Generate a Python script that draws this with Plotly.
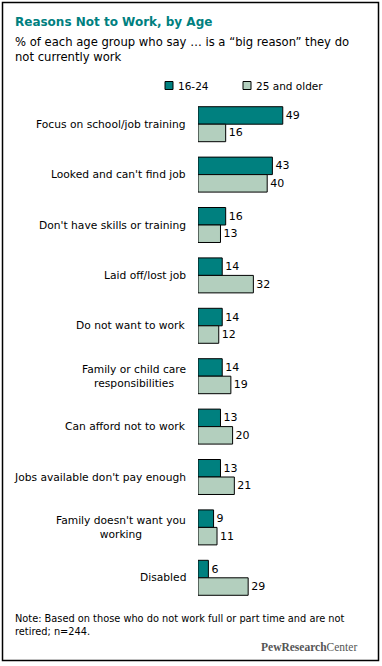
import plotly.graph_objects as go

categories = ["Focus on school/job training", "Looked and can't find job",
              "Don't have skills or training", "Laid off/lost job",
              "Do not want to work", "Family or child care<br>responsibilities",
              "Can afford not to work", "Jobs available don't pay enough",
              "Family doesn't want you<br>working", "Disabled"]
age_16_24 = [49, 43, 16, 14, 14, 14, 13, 13, 9, 6]
age_25_older = [16, 40, 13, 32, 12, 19, 20, 21, 11, 29]
series_names = ["16-24", "25 and older"]

DARK = "#00807F"
LIGHT = "#B3CFBE"
W, H = 382, 666
ML, MR, MT, MB = 198, 11, 99, 63
PW, PH = W - ML - MR, H - MT - MB
FONT = "DejaVu Sans"


def px_x(p):
    return (p - ML) / PW


def px_y(p):
    return (H - MB - p) / PH


fig = go.Figure()
for name, vals, col in [(series_names[0], age_16_24, DARK), (series_names[1], age_25_older, LIGHT)]:
    fig.add_trace(go.Bar(
        y=categories, x=vals, name=name, orientation="h",
        marker=dict(color=col, line=dict(color="black", width=1)),
        text=vals, textposition="outside", constraintext="none",
        textfont=dict(family=FONT, size=11, color="black"),
        cliponaxis=False, showlegend=False, hoverinfo="skip",
    ))

annotations = []
for c in categories:
    annotations.append(dict(xref="paper", yref="y", x=0, y=c, xshift=-10,
                            xanchor="right", yanchor="middle", align="center",
                            text=c, showarrow=False,
                            font=dict(family=FONT, size=10.7, color="black")))

annotations += [
    dict(xref="paper", yref="paper", x=px_x(13), y=px_y(21.5), xanchor="left", yanchor="middle",
         text="<b>Reasons Not to Work, by Age</b>", showarrow=False,
         font=dict(family=FONT, size=12, color=DARK)),
    dict(xref="paper", yref="paper", x=px_x(13), y=px_y(50), xanchor="left", yanchor="middle",
         align="left", showarrow=False,
         text="% of each age group who say … is a “big reason” they do<br>not currently work",
         font=dict(family=FONT, size=11.6, color="black")),
    dict(xref="paper", yref="paper", x=px_x(176), y=px_y(85.5), xanchor="left", yanchor="middle",
         text=series_names[0], showarrow=False, font=dict(family=FONT, size=10.5, color="black")),
    dict(xref="paper", yref="paper", x=px_x(254), y=px_y(85.5), xanchor="left", yanchor="middle",
         text=series_names[1], showarrow=False, font=dict(family=FONT, size=10.5, color="black")),
    dict(xref="paper", yref="paper", x=px_x(13), y=px_y(625), xanchor="left", yanchor="middle",
         align="left", showarrow=False,
         text="Note: Based on those who do not work full or part time and are not<br>retired; n=244.",
         font=dict(family=FONT, size=9.8, color="black")),
    dict(xref="paper", yref="paper", x=px_x(359), y=px_y(647), xanchor="right", yanchor="middle",
         showarrow=False, text="<b>PewResearch</b>Center",
         font=dict(family="Liberation Serif", size=11.5, color="#555555")),
]

shapes = [
    dict(type="rect", xref="paper", yref="paper", x0=px_x(2.5), x1=px_x(378.5),
         y0=px_y(2.5), y1=px_y(660.5), line=dict(color="black", width=1.5), layer="below"),
    dict(type="rect", xref="paper", yref="paper", x0=px_x(165), x1=px_x(173),
         y0=px_y(81.5), y1=px_y(89.5), fillcolor=DARK, line=dict(color="black", width=1)),
    dict(type="rect", xref="paper", yref="paper", x0=px_x(243), x1=px_x(251),
         y0=px_y(81.5), y1=px_y(89.5), fillcolor=LIGHT, line=dict(color="black", width=1)),
]

fig.update_layout(
    width=W, height=H, margin=dict(l=ML, r=MR, t=MT, b=MB),
    paper_bgcolor="white", plot_bgcolor="white",
    barmode="group", bargap=0.306, bargroupgap=0,
    xaxis=dict(range=[0, 100], visible=False),
    yaxis=dict(type="category", categoryorder="array", categoryarray=categories,
               autorange="reversed", showticklabels=False, showgrid=False, zeroline=False,
               showline=False, ticks=""),
    annotations=annotations, shapes=shapes, showlegend=False,
)

fig.write_html("out.html", config={"displayModeBar": False},
               post_script="document.body.style.margin='0';document.body.style.overflow='hidden';")
